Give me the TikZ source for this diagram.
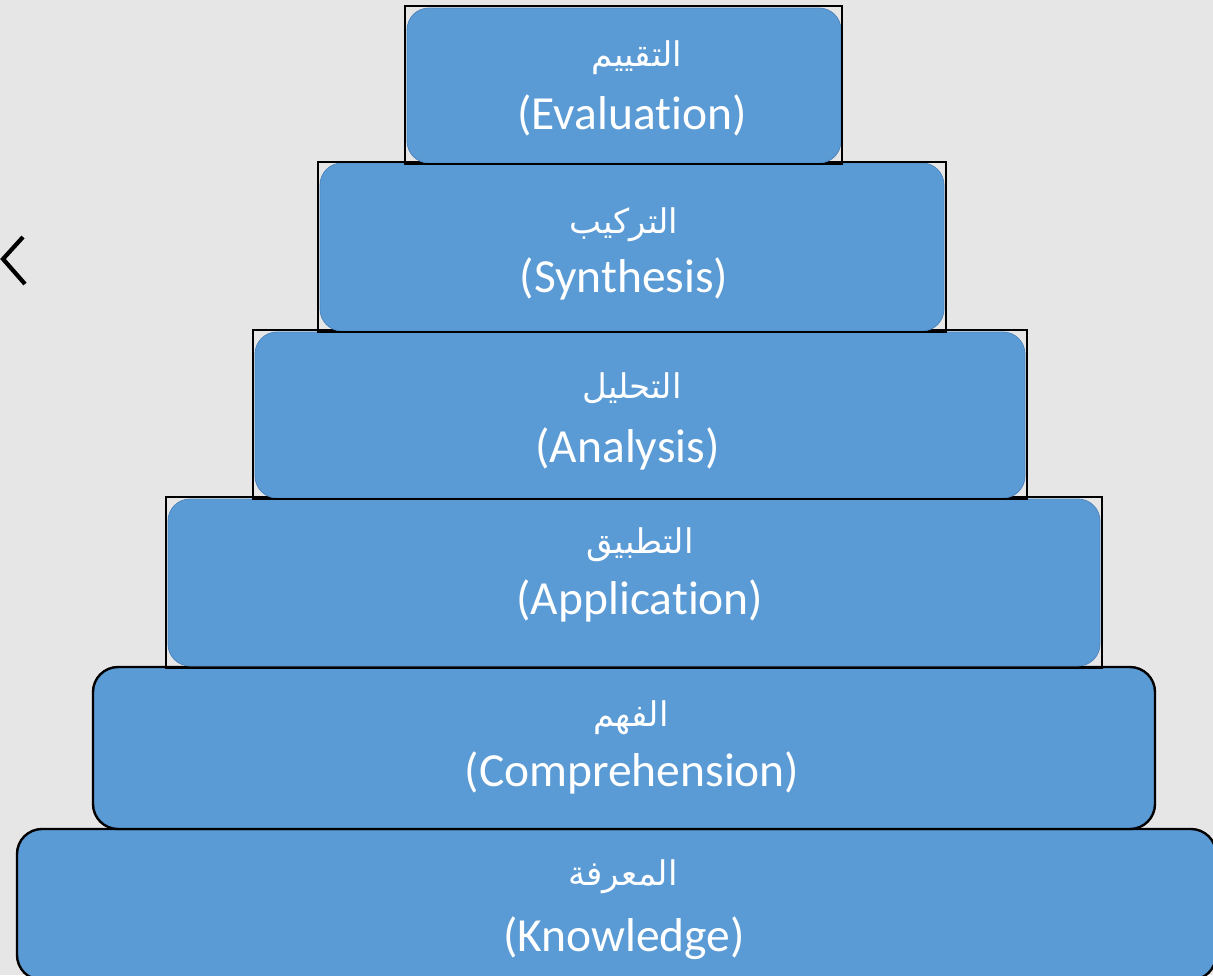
\documentclass[tikz,border=0pt]{standalone}
\usepackage{fontspec}
\setmainfont{Carlito}[Ligatures=NoCommon]
\newfontfamily\arabicfont[Script=Arabic]{DejaVu Sans}
\TeXXeTstate=1
\definecolor{bg}{HTML}{E6E6E6}
\definecolor{tierblue}{HTML}{5B9BD5}
\definecolor{tieredge}{HTML}{4F86BE}
\tikzset{
  tier/.style={fill=tierblue, draw=tieredge, line width=0.8pt, rounded corners=22pt, inner sep=0pt},
  tierb/.style={fill=tierblue, draw=black, line width=2.4pt, rounded corners=25pt, inner sep=0pt},
  frame/.style={draw=black, line width=2.4pt, inner sep=0pt},
  en/.style={text=white, font=\fontsize{47.5}{50}\selectfont, anchor=base, inner sep=0pt},
  ar/.style={text=white, font=\arabicfont\fontsize{34}{38}\selectfont, anchor=base, inner sep=0pt},
}
\begin{document}
\begin{tikzpicture}[x=1pt,y=-1pt]
\useasboundingbox (0,0) rectangle (1213,975);
\fill[bg] (0,0) rectangle (1213,975);
% tier 6
\node[tierb, minimum width=1199pt, minimum height=151pt] (b6) at (616.5,904.5) {};
% tier 5
\node[tierb, minimum width=1062pt, minimum height=162pt] (b5) at (624,748) {};
% tier 4
\node[tier, minimum width=932pt, minimum height=167pt] (b4) at (634,582.5) {};
\node[frame, minimum width=936pt, minimum height=171pt] (f4) at (634,582.5) {};
% tier 3
\node[tier, minimum width=770pt, minimum height=166pt] (b3) at (640,415) {};
\node[frame, minimum width=774pt, minimum height=169pt] (f3) at (640,414.5) {};
% tier 2
\node[tier, minimum width=624pt, minimum height=168pt] (b2) at (632,247) {};
\node[frame, minimum width=628pt, minimum height=170pt] (f2) at (632,247) {};
% tier 1
\node[tier, minimum width=434pt, minimum height=155pt] (b1) at (624,85.5) {};
\node[frame, minimum width=437pt, minimum height=158pt] (f1) at (623.5,85) {};
% texts
\node[ar] (a1) at (637,66) {\beginR التقييم\endR};
\node[en] (e1) at (632,129) {(Evaluation)};
\node[ar] (a2) at (624,233) {\beginR التركيب\endR};
\node[en] (e2) at (624,292) {(Synthesis)};
\node[ar] (a3) at (632,398) {\beginR التحليل\endR};
\node[en] (e3) at (627.5,462) {(Analysis)};
\node[ar] (a4) at (640,553) {\beginR التطبيق\endR};
\node[en] (e4) at (640,614) {(Application)};
\node[ar] (a5) at (631,726) {\beginR الفهم\endR};
\node[en] (e5) at (632,786) {(Comprehension)};
\node[ar] (a6) at (623,885) {\beginR المعرفة\endR};
\node[en] (e6) at (624,951) {(Knowledge)};
% chevron
\coordinate (c1) at (23,237);
\coordinate (c2) at (3,259);
\coordinate (c3) at (25,284);
\draw[line width=4.2pt] (c1) -- (c2) -- (c3);
\end{tikzpicture}
\end{document}
